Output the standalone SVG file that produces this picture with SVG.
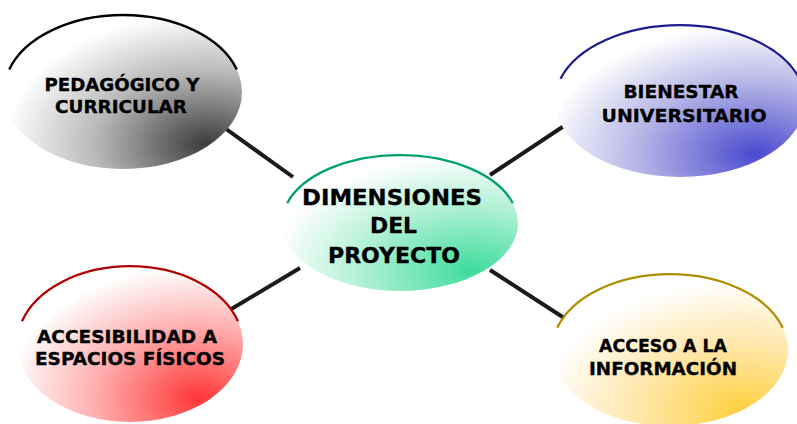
<svg xmlns="http://www.w3.org/2000/svg" width="797" height="424" viewBox="0 0 797 424">
<style>
.conn{stroke:#1a1a1a;stroke-width:4;fill:none}
.rim{fill:none;stroke-width:2.3}
.lbl{font-family:"DejaVu Sans","Liberation Sans",sans-serif;font-weight:bold;font-size:18.5px;fill:#000;stroke:#000;stroke-width:0.35;text-anchor:middle}
.big{font-size:22px}
</style>
<defs>
<radialGradient id="gGray" cx="0.85" cy="0.84" r="0.85"><stop offset="0" stop-color="#3c3c3c"/><stop offset="0.55" stop-color="#b8b8b8"/><stop offset="1" stop-color="#ffffff"/></radialGradient>
<radialGradient id="gBlue" cx="0.8" cy="0.85" r="0.85"><stop offset="0" stop-color="#4a4ad0"/><stop offset="0.55" stop-color="#b4b4e6"/><stop offset="1" stop-color="#ffffff"/></radialGradient>
<radialGradient id="gGreen" cx="0.8" cy="0.85" r="0.85"><stop offset="0" stop-color="#3ddc9c"/><stop offset="0.55" stop-color="#b0f0d4"/><stop offset="1" stop-color="#ffffff"/></radialGradient>
<radialGradient id="gRed" cx="0.8" cy="0.85" r="0.85"><stop offset="0" stop-color="#ff3636"/><stop offset="0.55" stop-color="#ffb0b0"/><stop offset="1" stop-color="#ffffff"/></radialGradient>
<radialGradient id="gGold" cx="0.8" cy="0.9" r="0.85"><stop offset="0" stop-color="#ffd040"/><stop offset="0.55" stop-color="#ffe8b0"/><stop offset="1" stop-color="#ffffff"/></radialGradient>
</defs>
<rect width="797" height="424" fill="#ffffff"/>
<g id="connectors">
<line class="conn" x1="215" y1="121" x2="293" y2="177"/>
<line class="conn" x1="490" y1="175" x2="585" y2="112"/>
<line class="conn" x1="218" y1="317" x2="300" y2="268"/>
<line class="conn" x1="490" y1="270" x2="575" y2="325"/>
</g>
<g id="pedagogico">
<ellipse cx="123" cy="92" rx="119" ry="77" fill="url(#gGray)"/>
<path class="rim" stroke="#000000" d="M9.2,69.5 A119,77 0 0,1 236.8,69.5"/>
<text class="lbl" x="122" y="91" textLength="155" lengthAdjust="spacingAndGlyphs">PEDAGÓGICO Y</text>
<text class="lbl" x="121" y="113" textLength="132" lengthAdjust="spacingAndGlyphs">CURRICULAR</text>
</g>
<g id="bienestar">
<ellipse cx="680" cy="101" rx="125" ry="76" fill="url(#gBlue)"/>
<path class="rim" stroke="#1c1c8c" d="M560.5,78.8 A125,76 0 0,1 799.5,78.8"/>
<text class="lbl" x="681" y="98" textLength="115" lengthAdjust="spacingAndGlyphs">BIENESTAR</text>
<text class="lbl" x="684" y="122" textLength="165" lengthAdjust="spacingAndGlyphs">UNIVERSITARIO</text>
</g>
<g id="dimensiones">
<ellipse cx="400" cy="223" rx="118" ry="68" fill="url(#gGreen)"/>
<path class="rim" stroke="#00a070" d="M287.2,203.1 A118,68 0 0,1 512.8,203.1"/>
<text class="lbl big" x="392" y="205" textLength="180" lengthAdjust="spacingAndGlyphs">DIMENSIONES</text>
<text class="lbl big" x="393.5" y="233" textLength="47" lengthAdjust="spacingAndGlyphs">DEL</text>
<text class="lbl big" x="394" y="263" textLength="132" lengthAdjust="spacingAndGlyphs">PROYECTO</text>
</g>
<g id="accesibilidad">
<ellipse cx="130" cy="344" rx="113" ry="78" fill="url(#gRed)"/>
<path class="rim" stroke="#b00000" d="M22,321.2 A113,78 0 0,1 238,321.2"/>
<text class="lbl" x="127" y="343" textLength="180" lengthAdjust="spacingAndGlyphs">ACCESIBILIDAD A</text>
<text class="lbl" x="130" y="365" textLength="190" lengthAdjust="spacingAndGlyphs">ESPACIOS FÍSICOS</text>
</g>
<g id="acceso">
<ellipse cx="670" cy="350" rx="118" ry="76" fill="url(#gGold)"/>
<path class="rim" stroke="#b08c00" d="M557.2,327.8 A118,76 0 0,1 782.8,327.8"/>
<text class="lbl" x="663" y="352" textLength="128" lengthAdjust="spacingAndGlyphs">ACCESO A LA</text>
<text class="lbl" x="663" y="375" textLength="148" lengthAdjust="spacingAndGlyphs">INFORMACIÓN</text>
</g>
</svg>
